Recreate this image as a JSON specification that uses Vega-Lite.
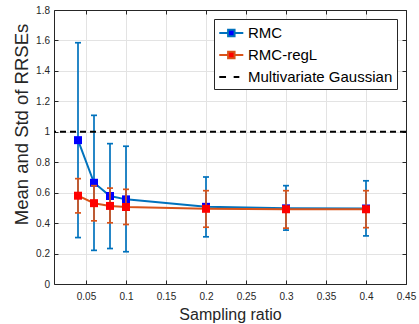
{
  "$schema": "https://vega.github.io/schema/vega-lite/v6.json",
  "width": 352,
  "height": 274,
  "autosize": {"type": "none"},
  "padding": {"left": 54, "top": 10, "right": 13, "bottom": 40},
  "background": "white",
  "datasets": {
    "rmc": [
      {"series": "RMC", "x": 0.04, "mean": 0.945, "lo": 0.305, "hi": 1.585},
      {"series": "RMC", "x": 0.06, "mean": 0.665, "lo": 0.221, "hi": 1.108},
      {"series": "RMC", "x": 0.08, "mean": 0.578, "lo": 0.233, "hi": 0.922},
      {"series": "RMC", "x": 0.10, "mean": 0.556, "lo": 0.212, "hi": 0.905},
      {"series": "RMC", "x": 0.20, "mean": 0.507, "lo": 0.31, "hi": 0.703},
      {"series": "RMC", "x": 0.30, "mean": 0.497, "lo": 0.354, "hi": 0.646},
      {"series": "RMC", "x": 0.40, "mean": 0.496, "lo": 0.316, "hi": 0.678}
    ],
    "regl": [
      {"series": "RMC-regL", "x": 0.04, "mean": 0.58, "lo": 0.467, "hi": 0.692},
      {"series": "RMC-regL", "x": 0.06, "mean": 0.531, "lo": 0.415, "hi": 0.646},
      {"series": "RMC-regL", "x": 0.08, "mean": 0.513, "lo": 0.402, "hi": 0.63},
      {"series": "RMC-regL", "x": 0.10, "mean": 0.506, "lo": 0.391, "hi": 0.622},
      {"series": "RMC-regL", "x": 0.20, "mean": 0.494, "lo": 0.373, "hi": 0.613},
      {"series": "RMC-regL", "x": 0.30, "mean": 0.491, "lo": 0.367, "hi": 0.613},
      {"series": "RMC-regL", "x": 0.40, "mean": 0.491, "lo": 0.37, "hi": 0.613}
    ],
    "ref": [{"label": "Multivariate Gaussian", "y": 1}]
  },
  "layer": [
    {
      "data": {"name": "rmc"},
      "mark": {"type": "rule", "color": "#0072BD", "strokeWidth": 1.7},
      "encoding": {
        "x": {"field": "x", "type": "quantitative", "scale": {"domain": [0.01, 0.45], "nice": false, "zero": false},
          "axis": {"orient": "bottom", "values": [0.05, 0.1, 0.15, 0.2, 0.25, 0.3, 0.35, 0.4, 0.45], "format": "~g", "title": "Sampling ratio", "grid": true, "labelFlush": false, "labelPadding": 11, "titlePadding": 5, "titleFontSize": 16}},
        "y": {"field": "lo", "type": "quantitative", "scale": {"domain": [0, 1.8], "nice": false, "zero": false},
          "axis": {"orient": "left", "values": [0, 0.2, 0.4, 0.6, 0.8, 1, 1.2, 1.4, 1.6, 1.8], "format": "~g", "title": "Mean and Std of RRSEs", "grid": true, "labelFlush": false, "labelPadding": 8.5, "titlePadding": 4, "titleFontSize": 18.5, "titleY": 114}},
        "y2": {"field": "hi"}
      }
    },
    {
      "data": {"name": "rmc"},
      "mark": {"type": "tick", "orient": "horizontal", "size": 6, "thickness": 1.7, "color": "#0072BD", "opacity": 1},
      "encoding": {
        "x": {"field": "x", "type": "quantitative", "scale": {"domain": [0.01, 0.45], "nice": false, "zero": false}, "axis": null},
        "y": {"field": "lo", "type": "quantitative", "scale": {"domain": [0, 1.8], "nice": false, "zero": false}, "axis": null}
      }
    },
    {
      "data": {"name": "rmc"},
      "mark": {"type": "tick", "orient": "horizontal", "size": 6, "thickness": 1.7, "color": "#0072BD", "opacity": 1},
      "encoding": {
        "x": {"field": "x", "type": "quantitative", "scale": {"domain": [0.01, 0.45], "nice": false, "zero": false}, "axis": null},
        "y": {"field": "hi", "type": "quantitative", "scale": {"domain": [0, 1.8], "nice": false, "zero": false}, "axis": null}
      }
    },
    {
      "data": {"name": "rmc"},
      "mark": {"type": "line", "color": "#0072BD", "strokeWidth": 2},
      "encoding": {
        "x": {"field": "x", "type": "quantitative", "scale": {"domain": [0.01, 0.45], "nice": false, "zero": false}, "axis": null},
        "y": {"field": "mean", "type": "quantitative", "scale": {"domain": [0, 1.8], "nice": false, "zero": false}, "axis": null}
      }
    },
    {
      "data": {"name": "rmc"},
      "mark": {"type": "square", "size": 64, "color": "#0000FF", "opacity": 1},
      "encoding": {
        "x": {"field": "x", "type": "quantitative", "scale": {"domain": [0.01, 0.45], "nice": false, "zero": false}, "axis": null},
        "y": {"field": "mean", "type": "quantitative", "scale": {"domain": [0, 1.8], "nice": false, "zero": false}, "axis": null}
      }
    },
    {
      "data": {"name": "regl"},
      "mark": {"type": "rule", "color": "#D95319", "strokeWidth": 1.7},
      "encoding": {
        "x": {"field": "x", "type": "quantitative", "scale": {"domain": [0.01, 0.45], "nice": false, "zero": false}, "axis": null},
        "y": {"field": "lo", "type": "quantitative", "scale": {"domain": [0, 1.8], "nice": false, "zero": false}, "axis": null},
        "y2": {"field": "hi"}
      }
    },
    {
      "data": {"name": "regl"},
      "mark": {"type": "tick", "orient": "horizontal", "size": 6, "thickness": 1.7, "color": "#D95319", "opacity": 1},
      "encoding": {
        "x": {"field": "x", "type": "quantitative", "scale": {"domain": [0.01, 0.45], "nice": false, "zero": false}, "axis": null},
        "y": {"field": "lo", "type": "quantitative", "scale": {"domain": [0, 1.8], "nice": false, "zero": false}, "axis": null}
      }
    },
    {
      "data": {"name": "regl"},
      "mark": {"type": "tick", "orient": "horizontal", "size": 6, "thickness": 1.7, "color": "#D95319", "opacity": 1},
      "encoding": {
        "x": {"field": "x", "type": "quantitative", "scale": {"domain": [0.01, 0.45], "nice": false, "zero": false}, "axis": null},
        "y": {"field": "hi", "type": "quantitative", "scale": {"domain": [0, 1.8], "nice": false, "zero": false}, "axis": null}
      }
    },
    {
      "data": {"name": "regl"},
      "mark": {"type": "line", "color": "#D95319", "strokeWidth": 2},
      "encoding": {
        "x": {"field": "x", "type": "quantitative", "scale": {"domain": [0.01, 0.45], "nice": false, "zero": false}, "axis": null},
        "y": {"field": "mean", "type": "quantitative", "scale": {"domain": [0, 1.8], "nice": false, "zero": false}, "axis": null}
      }
    },
    {
      "data": {"name": "regl"},
      "mark": {"type": "square", "size": 64, "color": "#FF0000", "opacity": 1},
      "encoding": {
        "x": {"field": "x", "type": "quantitative", "scale": {"domain": [0.01, 0.45], "nice": false, "zero": false}, "axis": null},
        "y": {"field": "mean", "type": "quantitative", "scale": {"domain": [0, 1.8], "nice": false, "zero": false}, "axis": null}
      }
    },
    {
      "data": {"name": "ref"},
      "mark": {"type": "rule", "color": "#000000", "strokeWidth": 2, "strokeDash": [6, 4]},
      "encoding": {
        "y": {"field": "y", "type": "quantitative", "scale": {"domain": [0, 1.8], "nice": false, "zero": false}, "axis": null}
      }
    },
    {
      "data": {"name": "rmc"},
      "transform": [{"filter": "datum.x > 10"}],
      "mark": {"type": "point", "opacity": 1, "strokeWidth": 2, "filled": false},
      "encoding": {
        "x": {"field": "x", "type": "quantitative", "scale": {"domain": [0.01, 0.45], "nice": false, "zero": false},
          "axis": {"orient": "top", "values": [0.05, 0.1, 0.15, 0.2, 0.25, 0.3, 0.35, 0.4, 0.45], "labels": false, "title": null, "grid": false}},
        "y": {"field": "mean", "type": "quantitative", "scale": {"domain": [0, 1.8], "nice": false, "zero": false},
          "axis": {"orient": "right", "values": [0, 0.2, 0.4, 0.6, 0.8, 1, 1.2, 1.4, 1.6, 1.8], "labels": false, "title": null, "grid": false}},
        "shape": {"field": "series", "type": "nominal",
          "scale": {"domain": ["RMC", "RMC-regL", "Multivariate Gaussian"],
            "range": ["M-0.97,0H0.01M0.73,0H1.7M0.01,-0.36H0.73V0.36H0.01Z", "M-0.97,0H0.01M0.73,0H1.7M0.01,-0.36H0.73V0.36H0.01Z", "M-0.97,0H-0.22M0.63,0H1.26"]},
          "legend": {"title": null}},
        "fill": {"field": "series", "type": "nominal",
          "scale": {"domain": ["RMC", "RMC-regL", "Multivariate Gaussian"], "range": ["#0000FF", "#FF0000", "transparent"]},
          "legend": {"title": null}},
        "stroke": {"field": "series", "type": "nominal",
          "scale": {"domain": ["RMC", "RMC-regL", "Multivariate Gaussian"], "range": ["#0072BD", "#D95319", "#000000"]},
          "legend": {"title": null}}
      }
    }
  ],
  "resolve": {"axis": {"x": "independent", "y": "independent"}},
  "config": {
    "view": {"stroke": null},
    "font": "Liberation Sans",
    "axis": {
      "domainColor": "#262626",
      "domainWidth": 1,
      "tickColor": "#262626",
      "tickWidth": 1,
      "tickSize": -4,
      "labelColor": "#262626",
      "labelFont": "Liberation Sans",
      "labelFontSize": 10,
      "titleFont": "Liberation Sans",
      "titleFontWeight": "normal",
      "titleColor": "#262626",
      "gridColor": "#e3e3e3",
      "gridWidth": 1
    },
    "legend": {
      "orient": "top-right",
      "offset": 9,
      "padding": 4,
      "strokeColor": "#262626",
      "fillColor": "white",
      "labelFont": "Liberation Sans",
      "labelFontSize": 15,
      "labelColor": "#000000",
      "labelLimit": 300,
      "symbolSize": 324,
      "symbolStrokeWidth": 2,
      "labelOffset": 10,
      "rowPadding": 4,
      "cornerRadius": 0
    }
  }
}
